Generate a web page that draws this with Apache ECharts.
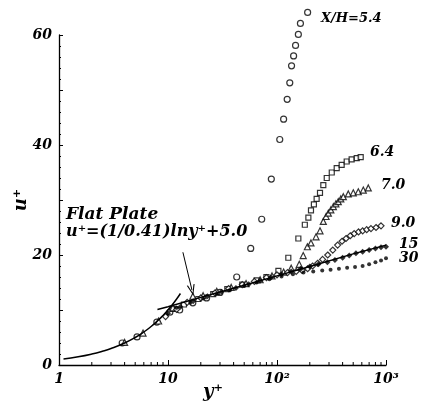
<!DOCTYPE html>
<html>
<head>
<meta charset="utf-8">
<script src="https://cdn.jsdelivr.net/npm/echarts@6/dist/echarts.min.js"></script>
<style>
  html, body { margin: 0; padding: 0; background: #fff; }
  #chart { width: 422px; height: 407px; }
</style>
</head>
<body>
<div id="chart"></div>
<script>
// flat plate profile
var plateWall = [[1.1, 1.1], [1.5, 1.5], [2, 2], [2.5, 2.5], [3, 3], [4, 4], [5, 5], [6, 6], [7, 7],
    [8, 8], [9, 9], [10, 10], [11, 11], [12, 12], [13, 13]];
var plateLog = [[8, 10.1], [10, 10.6], [20, 12.3], [50, 14.5], [100, 16.2], [200, 17.9], [500, 20.2], [1000, 21.8]];

// X/H = 5.4 (circles)
var xh54 = [[3.8, 4.0], [5.2, 5.1], [7.9, 7.8], [10.4, 9.6], [12.8, 10.0], [16.9, 11.3], [22.6, 12.2],
    [30, 13.2], [42.7, 16.0], [57.4, 21.2], [72.4, 26.5], [88.7, 33.8], [106, 41.0], [115, 44.7],
    [124, 48.3], [131, 51.3], [136, 54.4], [142, 56.2], [148, 58.1], [157, 60.1], [164, 62.1], [191, 64.1]];
// X/H = 6.4 (squares)
var xh64 = [[11, 10.2], [14, 11.0], [19, 12.0], [26, 12.9], [35, 13.8], [48, 14.6], [65, 15.4], [80, 16.0],
    [103, 17.1], [127, 19.5], [157, 23.0], [180, 25.5], [194, 26.8], [205, 28.1], [218, 29.2], [231, 30.2],
    [248, 31.3], [266, 32.7], [286, 34.0], [318, 35.0], [353, 35.8], [392, 36.4], [436, 37.0], [484, 37.4],
    [539, 37.6], [586, 37.8]];
// X/H = 7.0 (triangles)
var xh70 = [[4.0, 4.1], [5.9, 5.8], [8.2, 8.0], [11.1, 10.4], [16.9, 12.5], [21, 12.6], [28, 13.4],
    [38, 14.1], [52, 14.8], [70, 15.5], [90, 16.2], [115, 16.9], [135, 17.6], [160, 18.3], [174, 19.9],
    [190, 21.5], [205, 22.2], [228, 23.3], [248, 24.4], [266, 26.1], [282, 27.0], [296, 27.6], [312, 28.2],
    [329, 28.8], [347, 29.3], [365, 29.7], [385, 30.2], [406, 30.6], [451, 31.1], [501, 31.3], [557, 31.5],
    [619, 31.8], [688, 32.2]];
// X/H = 9.0 (diamonds)
var xh90 = [[9.5, 8.8], [12, 10.1], [15, 11.4], [20, 12.2], [27, 13.1], [36, 13.9], [48, 14.6], [62, 15.2],
    [80, 15.9], [100, 16.4], [125, 16.8], [150, 17.0], [170, 17.2], [191, 17.5], [212, 18.0], [236, 18.5],
    [262, 19.2], [292, 20.0], [325, 20.9], [360, 21.8], [395, 22.5], [430, 23.0], [470, 23.5], [511, 23.9],
    [560, 24.2], [611, 24.4], [665, 24.6], [728, 24.8], [810, 25.0], [900, 25.3]];
// X/H = 15 (filled)
var xh15 = [[10, 9.4], [13, 10.6], [17, 11.6], [23, 12.5], [31, 13.3], [42, 14.0], [55, 14.7], [70, 15.3],
    [88, 15.9], [110, 16.5], [135, 17.0], [165, 17.5], [200, 17.9], [240, 18.3], [290, 18.7], [340, 19.1],
    [400, 19.5], [460, 19.9], [530, 20.3], [610, 20.6], [700, 20.9], [800, 21.2], [900, 21.4], [1000, 21.5]];
// X/H = 30 (dots)
var xh30 = [[12, 10.4], [16, 11.3], [21, 12.1], [28, 12.9], [37, 13.6], [50, 14.4], [65, 15.0], [85, 15.6],
    [110, 16.1], [140, 16.5], [175, 16.8], [215, 17.0], [260, 17.2], [310, 17.3], [370, 17.5], [440, 17.7],
    [520, 17.8], [610, 18.0], [700, 18.3], [800, 18.7], [900, 19.0], [1000, 19.4]];

var xLabels = {1: '1', 10: '10', 100: '10²', 1000: '10³'};
var xMinorTicks = [2, 3, 4, 5, 6, 7, 8, 9, 20, 30, 40, 50, 60, 70, 80, 90, 200, 300, 400, 500, 600, 700, 800, 900];
var yLabels = [0, 20, 40, 60];

var FONT = '"DejaVu Serif", serif';
var chart = echarts.init(document.getElementById('chart'));

function hollow(name, data, symbol, size) {
    return {
        name: name,
        type: 'scatter',
        data: data,
        symbol: symbol,
        symbolSize: size,
        clip: false,
        itemStyle: {color: '#fff', borderColor: '#000', borderWidth: 1.2}
    };
}

function note(text, x, y, size) {
    return {type: 'text', left: x, top: y, style: {text: text, font: 'italic bold ' + size + 'px ' + FONT, fill: '#000'}};
}

var option = {
    animation: false,
    backgroundColor: '#fff',
    grid: {left: 59, right: 36, top: 35, bottom: 42},
    xAxis: {
        type: 'log',
        logBase: 10,
        min: 1,
        max: 1000,
        axisLine: {lineStyle: {color: '#000', width: 1.3}},
        axisTick: {inside: true, length: 5, lineStyle: {color: '#000'}},
        splitLine: {show: false},
        axisLabel: {
            margin: 7,
            fontFamily: FONT, fontStyle: 'italic', fontWeight: 'bold', fontSize: 14, color: '#000',
            formatter: function (v) { return xLabels[Math.round(v)] || ''; }
        }
    },
    yAxis: {
        type: 'value',
        min: 0,
        max: 60,
        interval: 10,
        axisLine: {show: true, lineStyle: {color: '#000', width: 1.3}},
        axisTick: {show: true, inside: true, length: 4, lineStyle: {color: '#000'}},
        minorTick: {show: true, splitNumber: 5, length: 2, lineStyle: {color: '#000'}},
        splitLine: {show: false},
        axisLabel: {
            margin: 7,
            fontFamily: FONT, fontStyle: 'italic', fontWeight: 'bold', fontSize: 14, color: '#000',
            formatter: function (v) { return yLabels.indexOf(v) >= 0 ? String(v) : ''; }
        }
    },
    graphic: [
        // axis names
        {type: 'text', x: 21, y: 200, rotation: Math.PI / 2,
            style: {text: 'u⁺', font: 'italic bold 18px ' + FONT, fill: '#000', align: 'center', verticalAlign: 'middle'}},
        {type: 'text', x: 213, y: 392,
            style: {text: 'y⁺', font: 'italic bold 18px ' + FONT, fill: '#000', align: 'center', verticalAlign: 'middle'}},
        note('Flat Plate', 66, 206, 17),
        note('u⁺=(1/0.41)lny⁺+5.0', 66, 224, 16),
        note('X/H=5.4', 321, 12, 13),
        note('6.4', 370, 145, 14),
        note('7.0', 381, 178, 14),
        note('9.0', 391, 216, 14),
        note('15', 399, 237, 14),
        note('30', 399, 251, 14)
    ],
    series: [
        {
            name: 'minor ticks',
            type: 'custom',
            data: xMinorTicks.map(function (v) { return [v, 0]; }),
            clip: false,
            silent: true,
            renderItem: function (params, api) {
                var p = api.coord([api.value(0), 0]);
                return {
                    type: 'line',
                    shape: {x1: p[0], y1: p[1], x2: p[0], y2: p[1] - 3},
                    style: {stroke: '#000', lineWidth: 1}
                };
            }
        },
        {
            name: 'Flat plate wall',
            type: 'line',
            data: plateWall,
            smooth: true,
            showSymbol: false,
            lineStyle: {color: '#000', width: 1.5}
        },
        {
            name: 'Flat plate log',
            type: 'line',
            data: plateLog,
            showSymbol: false,
            lineStyle: {color: '#000', width: 1.5},
            markLine: {
                silent: true,
                symbol: ['none', 'path://M0,20L10,0L20,20L17,20L10,5L3,20Z'],
                symbolSize: [8, 11],
                label: {show: false},
                lineStyle: {color: '#000', width: 1, type: 'solid'},
                data: [[{coord: [13.7, 20.5]}, {coord: [16.6, 13.6]}]]
            }
        },
        hollow('5.4', xh54, 'circle', 6),
        hollow('6.4', xh64, 'rect', 5),
        hollow('7.0', xh70, 'triangle', 6),
        hollow('9.0', xh90, 'diamond', 6),
        {
            name: '15',
            type: 'scatter',
            data: xh15,
            symbol: 'diamond',
            symbolSize: 6,
            clip: false,
            itemStyle: {color: '#000'}
        },
        {
            name: '30',
            type: 'scatter',
            data: xh30,
            symbol: 'circle',
            symbolSize: 4,
            clip: false,
            itemStyle: {color: '#000'}
        }
    ]
};
chart.setOption(option);
</script>
</body>
</html>
